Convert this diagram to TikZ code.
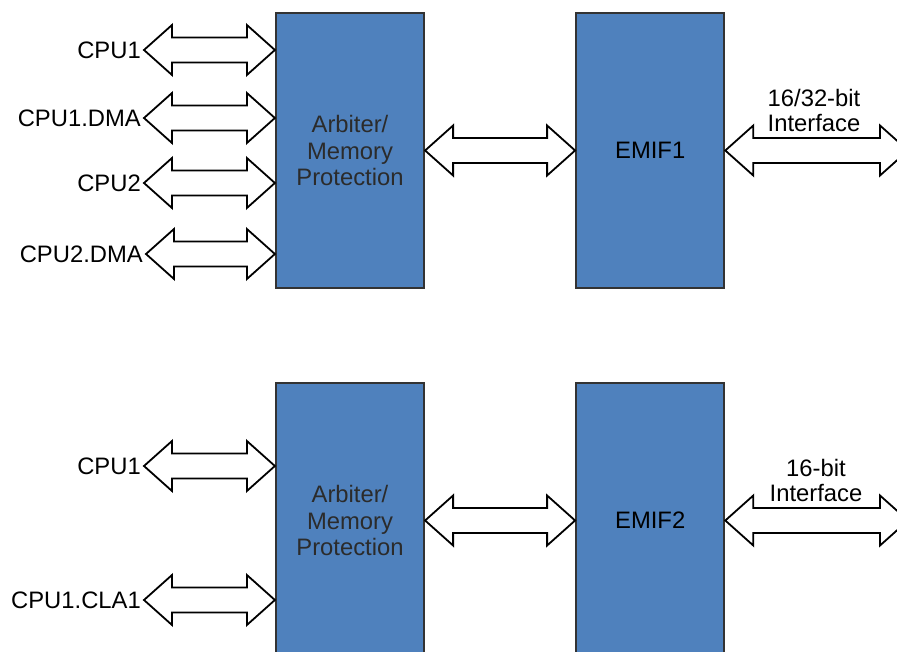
\documentclass[tikz,border=0pt]{standalone}
\usepackage{fontspec}
\setmainfont{Liberation Sans}
\usetikzlibrary{positioning,calc}
\definecolor{boxblue}{HTML}{4F81BD}
\definecolor{boxline}{HTML}{333333}
\definecolor{arbtext}{HTML}{2B2B2B}

% hollow two-headed bus arrow between two points on one level
\newcommand{\busarrow}[2]{%
  \draw[bus] let \p1=(#1), \p2=(#2) in
    (\x1,\y1) -- ++(28pt,25pt) -- ++(0pt,-12.5pt) -- (\x2-28pt,\y1+12.5pt)
    -- ++(0pt,12.5pt) -- (\x2,\y1) -- ++(-28pt,-25pt) -- ++(0pt,12.5pt)
    -- (\x1+28pt,\y1-12.5pt) -- ++(0pt,-12.5pt) -- cycle;}

\begin{document}
\begin{tikzpicture}[x=1pt, y=-1pt, node distance=150pt,
    every node/.style={font=\fontsize{23.8}{26.5}\selectfont},
    block/.style={rectangle, draw=boxline, line width=2.2pt, fill=boxblue, minimum width=148pt, minimum height=275pt, inner sep=0pt},
    bus/.style={draw=black, fill=white, line width=1.8pt, line join=miter},
    port/.style={anchor=east, inner sep=3pt}]
    \clip (0,0) rectangle (897,652);

    % upper half
    \node[block, text=arbtext, align=center] (arb1) at (350,150.5) {Arbiter/\\Memory\\Protection};
    \node[block] (emif1) [right=of arb1] {EMIF1};
    \node[port] (cpu1) at (144,50) {CPU1};
    \node[port] (dma1) at (144,118) {CPU1.DMA};
    \node[port] (cpu2) at (144,183) {CPU2};
    \node[port] (dma2) at (146,254) {CPU2.DMA};
    \coordinate (ext1) at (908,150.5);

    \busarrow{cpu1.east}{arb1.west |- cpu1.east}
    \busarrow{dma1.east}{arb1.west |- dma1.east}
    \busarrow{cpu2.east}{arb1.west |- cpu2.east}
    \busarrow{dma2.east}{arb1.west |- dma2.east}
    \busarrow{arb1.east}{emif1.west}
    \busarrow{emif1.east}{ext1}
    \node[align=center, font=\fontsize{23.8}{25}\selectfont] (wide) at (814,110.5) {16/32-bit\\Interface};

    % lower half
    \node[block, text=arbtext, align=center] (arb2) at (350,520.5) {Arbiter/\\Memory\\Protection};
    \node[block] (emif2) [right=of arb2] {EMIF2};
    \node[port] (cpu1b) at (144,466) {CPU1};
    \node[port] (cla1) at (144,600) {CPU1.CLA1};
    \coordinate (ext2) at (908,518);

    \busarrow{cpu1b.east}{arb2.west |- cpu1b.east}
    \busarrow{cla1.east}{arb2.west |- cla1.east}
    \busarrow{arb2.east}{emif2.west}
    \busarrow{emif2.east}{ext2}
    \node[align=center, font=\fontsize{23.8}{25}\selectfont] (narrow) at (816,480) {16-bit\\Interface};
\end{tikzpicture}
\end{document}
